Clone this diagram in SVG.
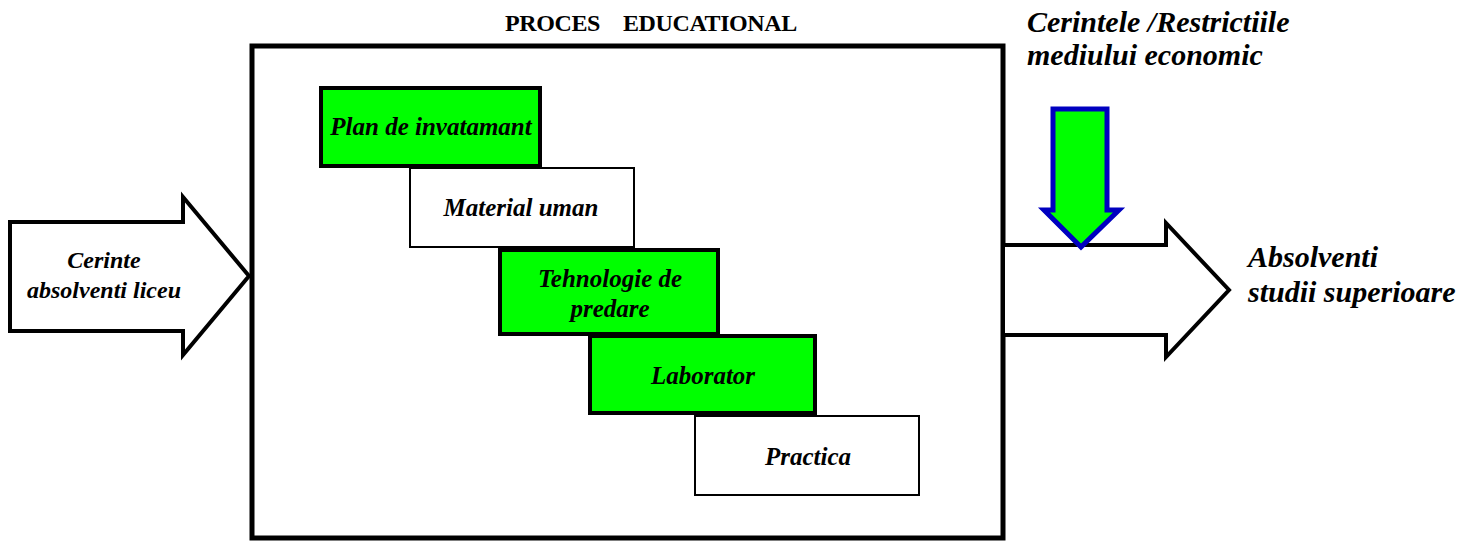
<svg xmlns="http://www.w3.org/2000/svg" width="1479" height="542" viewBox="0 0 1479 542">
<style>
.t{font-family:"Liberation Serif","Times New Roman",serif;font-weight:bold;font-style:italic;fill:#000}
.h{font-family:"Liberation Serif","Times New Roman",serif;font-weight:bold;font-size:24px;fill:#000;letter-spacing:-0.4px}
.box{stroke:#000}
.g{fill:#00ff00;stroke-width:4}
.w{fill:#fff;stroke-width:2}
.arr{fill:#fff;stroke:#000;stroke-width:4;stroke-linejoin:miter}
</style>
<rect width="1479" height="542" fill="#fff"/>
<g id="process">
<rect x="252" y="46" width="751" height="492" fill="none" stroke="#000" stroke-width="5"/>
<text class="h" x="505" y="31">PROCES</text>
<text class="h" x="623" y="31">EDUCATIONAL</text>
</g>
<g id="connectors">
<polygon class="arr" points="10,222 183,222 183,197 249,276 183,355 183,331 10,331"/>
<polygon class="arr" points="1003,245 1166,245 1166,223 1229,290 1166,357 1166,335 1003,335"/>
<polygon points="1053,109 1107,109 1107,210 1119,210 1081,247 1044,210 1053,210" fill="#00ff00" stroke="#0000c0" stroke-width="5"/>
</g>
<g id="input">
<text class="t" font-size="24" text-anchor="middle" x="104" y="268">Cerinte</text>
<text class="t" font-size="24" text-anchor="middle" x="104" y="298">absolventi liceu</text>
</g>
<g id="output">
<text class="t" font-size="30" x="1248" y="267">Absolventi</text>
<text class="t" font-size="30" x="1248" y="302">studii superioare</text>
</g>
<g id="constraints">
<text class="t" font-size="30" x="1027" y="32">Cerintele /Restrictiile</text>
<text class="t" font-size="30" x="1027" y="65">mediului economic</text>
</g>
<g id="plan">
<rect class="box g" x="321" y="88" width="219" height="78"/>
<text class="t" font-size="25" text-anchor="middle" x="431" y="135">Plan de invatamant</text>
</g>
<g id="material">
<rect class="box w" x="410" y="168" width="224" height="79"/>
<text class="t" font-size="25" text-anchor="middle" x="521" y="216">Material uman</text>
</g>
<g id="tehnologie">
<rect class="box g" x="500" y="250" width="218" height="84"/>
<text class="t" font-size="25" text-anchor="middle" x="610" y="287">Tehnologie de</text>
<text class="t" font-size="25" text-anchor="middle" x="610" y="317">predare</text>
</g>
<g id="laborator">
<rect class="box g" x="590" y="336" width="225" height="77"/>
<text class="t" font-size="25" text-anchor="middle" x="703" y="384">Laborator</text>
</g>
<g id="practica">
<rect class="box w" x="695" y="416" width="224" height="79"/>
<text class="t" font-size="25" text-anchor="middle" x="808" y="465">Practica</text>
</g>
</svg>
